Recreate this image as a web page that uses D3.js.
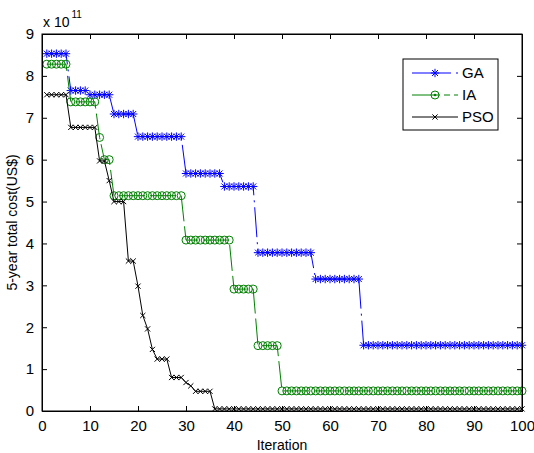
<!DOCTYPE html>
<html>
<head>
<meta charset="utf-8">
<script src="https://cdn.jsdelivr.net/npm/d3@7"></script>
<style>
  html, body { margin: 0; padding: 0; background: #fff; }
  svg { display: block; }
  text { font-family: Arial, "Liberation Sans", sans-serif; fill: #000; }
</style>
</head>
<body>
<div id="chart"></div>
<script>
// ---- data (values in units of 1e11 US$) ----
const iterations = d3.range(1, 101);
const seriesNames = ["GA", "IA", "PSO"];
const xTicks = [0, 10, 20, 30, 40, 50, 60, 70, 80, 90, 100];
const yTicks = [0, 1, 2, 3, 4, 5, 6, 7, 8, 9];

const gaValues = [
  8.53, 8.53, 8.53, 8.53, 8.53,
  7.65, 7.65, 7.65, 7.65,
  7.55, 7.55, 7.55, 7.55, 7.55,
  7.09, 7.09, 7.09, 7.09, 7.09,
  6.55, 6.55, 6.55, 6.55, 6.55, 6.55, 6.55, 6.55, 6.55, 6.55,
  5.67, 5.67, 5.67, 5.67, 5.67, 5.67, 5.67, 5.67,
  5.36, 5.36, 5.36, 5.36, 5.36, 5.36, 5.36,
  3.78, 3.78, 3.78, 3.78, 3.78, 3.78, 3.78, 3.78, 3.78, 3.78, 3.78, 3.78,
  3.15, 3.15, 3.15, 3.15, 3.15, 3.15, 3.15, 3.15, 3.15, 3.15,
  1.57, 1.57, 1.57, 1.57, 1.57, 1.57, 1.57, 1.57, 1.57, 1.57,
  1.57, 1.57, 1.57, 1.57, 1.57, 1.57, 1.57, 1.57, 1.57, 1.57,
  1.57, 1.57, 1.57, 1.57, 1.57, 1.57, 1.57, 1.57, 1.57, 1.57,
  1.57, 1.57, 1.57, 1.57
];

const iaValues = [
  8.28, 8.28, 8.28, 8.28, 8.28,
  7.38, 7.38, 7.38, 7.38, 7.38, 7.38,
  6.53,
  6.00, 6.00,
  5.14, 5.14, 5.14, 5.14, 5.14, 5.14, 5.14, 5.14, 5.14, 5.14, 5.14, 5.14, 5.14, 5.14, 5.14,
  4.08, 4.08, 4.08, 4.08, 4.08, 4.08, 4.08, 4.08, 4.08, 4.08,
  2.91, 2.91, 2.91, 2.91, 2.91,
  1.56, 1.56, 1.56, 1.56, 1.56,
  0.48, 0.48, 0.48, 0.48, 0.48, 0.48, 0.48, 0.48, 0.48, 0.48,
  0.48, 0.48, 0.48, 0.48, 0.48, 0.48, 0.48, 0.48, 0.48, 0.48,
  0.48, 0.48, 0.48, 0.48, 0.48, 0.48, 0.48, 0.48, 0.48, 0.48,
  0.48, 0.48, 0.48, 0.48, 0.48, 0.48, 0.48, 0.48, 0.48, 0.48,
  0.48, 0.48, 0.48, 0.48, 0.48, 0.48, 0.48, 0.48, 0.48, 0.48,
  0.48
];

const psoValues = [
  7.55, 7.55, 7.55, 7.55, 7.55,
  6.77, 6.77, 6.77, 6.77, 6.77, 6.77,
  5.97, 5.97,
  5.50,
  5.00, 5.00, 5.00,
  3.58, 3.58,
  2.98,
  2.28,
  1.96,
  1.47,
  1.24, 1.24, 1.24,
  0.80, 0.80, 0.80,
  0.68,
  0.60,
  0.47, 0.47, 0.47, 0.47,
  0.05, 0.05, 0.05, 0.05, 0.05, 0.05, 0.05, 0.05, 0.05, 0.05,
  0.05, 0.05, 0.05, 0.05, 0.05, 0.05, 0.05, 0.05, 0.05, 0.05,
  0.05, 0.05, 0.05, 0.05, 0.05, 0.05, 0.05, 0.05, 0.05, 0.05,
  0.05, 0.05, 0.05, 0.05, 0.05, 0.05, 0.05, 0.05, 0.05, 0.05,
  0.05, 0.05, 0.05, 0.05, 0.05, 0.05, 0.05, 0.05, 0.05, 0.05,
  0.05, 0.05, 0.05, 0.05, 0.05, 0.05, 0.05, 0.05, 0.05, 0.05,
  0.05, 0.05, 0.05, 0.05, 0.05
];

// ---- layout ----
const W = 534, H = 453;
const L = 42, R = 522, T = 34, B = 411;

const svg = d3.select("#chart").append("svg")
  .attr("width", W).attr("height", H);

const x = d3.scaleLinear().domain([0, 100]).range([L, R]);
const y = d3.scaleLinear().domain([0, 9]).range([B, T]);

const styles = [
  { name: "GA",  vals: gaValues,  color: "#0000ff", dash: "30,5,2,5", marker: "star" },
  { name: "IA",  vals: iaValues,  color: "#008000", dash: "26,5",     marker: "circle" },
  { name: "PSO", vals: psoValues, color: "#000000", dash: null,       marker: "x" }
];

function drawMarker(g, type, cx, cy, color) {
  if (type === "star") {
    const r = 4.2, d = 3.0;
    g.append("path")
      .attr("d", `M${cx - r},${cy}L${cx + r},${cy}M${cx},${cy - r}L${cx},${cy + r}` +
                 `M${cx - d},${cy - d}L${cx + d},${cy + d}M${cx - d},${cy + d}L${cx + d},${cy - d}`)
      .attr("stroke", color).attr("stroke-width", 1).attr("fill", "none");
  } else if (type === "circle") {
    g.append("circle").attr("cx", cx).attr("cy", cy).attr("r", 4)
      .attr("stroke", color).attr("stroke-width", 1).attr("fill", "none");
  } else {
    const d = 2.6;
    g.append("path")
      .attr("d", `M${cx - d},${cy - d}L${cx + d},${cy + d}M${cx - d},${cy + d}L${cx + d},${cy - d}`)
      .attr("stroke", color).attr("stroke-width", 1).attr("fill", "none");
  }
}

const plot = svg.append("g");
const line = d3.line().x((d, i) => x(iterations[i])).y(d => y(d));

styles.forEach(s => {
  const g = plot.append("g");
  g.append("path")
    .datum(s.vals)
    .attr("d", line)
    .attr("fill", "none")
    .attr("stroke", s.color)
    .attr("stroke-width", 1)
    .attr("stroke-dasharray", s.dash);
  s.vals.forEach((v, i) => drawMarker(g, s.marker, x(iterations[i]), y(v), s.color));
});

// ---- axes (MATLAB style box with inward ticks) ----
const axisFont = 15;

const gx = svg.append("g").attr("transform", `translate(0,${B})`)
  .call(d3.axisBottom(x).tickValues(xTicks).tickSize(-5).tickPadding(9).tickFormat(d3.format("d")));
const gxt = svg.append("g").attr("transform", `translate(0,${T})`)
  .call(d3.axisTop(x).tickValues(xTicks).tickSize(-5).tickFormat(""));
const gy = svg.append("g").attr("transform", `translate(${L},0)`)
  .call(d3.axisLeft(y).tickValues(yTicks).tickSize(-5).tickPadding(8).tickFormat(d3.format("d")));
const gyr = svg.append("g").attr("transform", `translate(${R},0)`)
  .call(d3.axisRight(y).tickValues(yTicks).tickSize(-5).tickFormat(""));

[gx, gxt, gy, gyr].forEach(g => {
  g.selectAll(".domain").attr("stroke", "#000").attr("stroke-width", 1);
  g.selectAll(".tick line").attr("stroke", "#000").attr("stroke-width", 1);
  g.selectAll("text").style("font-size", axisFont + "px")
    .style("font-family", "Arial, 'Liberation Sans', sans-serif").attr("fill", "#000");
});
gx.selectAll(".tick").filter(d => d === 0 || d === 100).select("line").remove();
gxt.selectAll(".tick").filter(d => d === 0 || d === 100).select("line").remove();
gy.selectAll(".tick").filter(d => d === 0 || d === 9).select("line").remove();
gyr.selectAll(".tick").filter(d => d === 0 || d === 9).select("line").remove();

// box
svg.append("rect").attr("x", L).attr("y", T).attr("width", R - L).attr("height", B - T)
  .attr("fill", "none").attr("stroke", "#000").attr("stroke-width", 1);

// axis labels
svg.append("text").attr("x", (L + R) / 2).attr("y", 450).attr("text-anchor", "middle")
  .style("font-size", "14px").text("Iteration");
svg.append("text").attr("transform", `translate(17,${(T + B) / 2}) rotate(-90)`)
  .attr("text-anchor", "middle").style("font-size", "14px").text("5-year total cost(US$)");

// exponent
const ex = svg.append("text").attr("x", 43).attr("y", 27).style("font-size", "14px");
ex.append("tspan").text("x 10");
ex.append("tspan").attr("dy", -9).attr("dx", 2).style("font-size", "10px").text("11");

// ---- legend ----
const lg = svg.append("g");
lg.append("rect").attr("x", 403).attr("y", 59).attr("width", 95).attr("height", 71)
  .attr("fill", "#fff").attr("stroke", "#000").attr("stroke-width", 1);
const legendY = [73, 95, 117];
styles.forEach((s, i) => {
  const ly = legendY[i];
  lg.append("line").attr("x1", 412).attr("x2", 458).attr("y1", ly).attr("y2", ly)
    .attr("stroke", s.color).attr("stroke-width", 1).attr("stroke-dasharray", s.dash ? (i === 0 ? "39,5,2,5" : "28,4,6,4") : null);
  drawMarker(lg, s.marker, 435, ly, s.color);
  if (s.marker === "circle") {
    lg.append("circle").attr("cx", 435).attr("cy", ly).attr("r", 1.3).attr("fill", s.color);
  }
  lg.append("text").attr("x", 462).attr("y", ly + 5).style("font-size", "15px").text(s.name);
});
</script>
</body>
</html>
